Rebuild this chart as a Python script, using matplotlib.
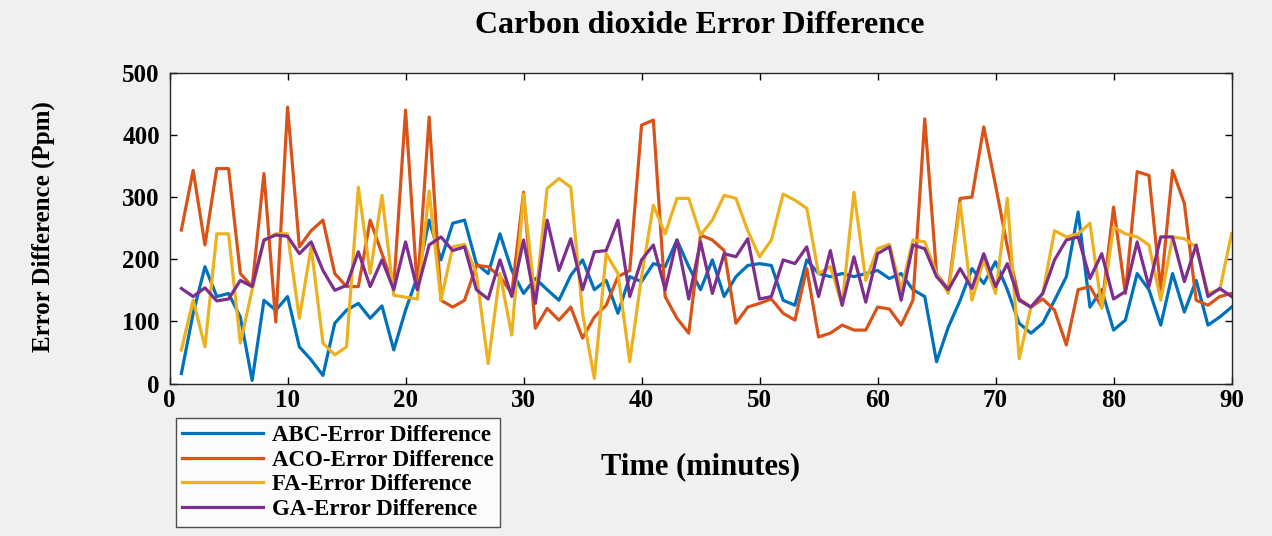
import matplotlib
matplotlib.use("Agg")
import matplotlib.pyplot as plt
import numpy as np

time_min = list(range(1, 91))

abc_err = [16, 113, 188, 140, 145, 107, 5, 134, 118, 140, 59, 38, 13, 97, 118, 129, 105, 125, 54, 118,
           172, 263, 199, 258, 263, 193, 177, 241, 182, 145, 169, 151, 134, 174, 199, 151, 166, 113, 172, 164,
           193, 188, 231, 188, 151, 199, 140, 172, 190, 193, 190, 134, 126, 199, 177, 172, 177, 172, 177, 182,
           169, 177, 151, 140, 35, 91, 134, 185, 161, 196, 151, 97, 81, 97, 134, 172, 276, 123, 151, 86,
           102, 177, 151, 94, 177, 115, 166, 94, 107, 123]

aco_err = [247, 343, 223, 346, 346, 177, 156, 338, 99, 445, 220, 246, 263, 177, 156, 156, 263, 209, 156, 440,
           151, 429, 134, 123, 134, 190, 188, 172, 145, 308, 89, 121, 102, 123, 73, 107, 126, 172, 182, 416,
           424, 140, 105, 81, 239, 231, 214, 97, 123, 129, 136, 113, 102, 185, 75, 81, 94, 86, 86, 123,
           120, 94, 134, 426, 177, 151, 298, 300, 413, 319, 220, 136, 123, 136, 118, 62, 151, 156, 123, 284,
           145, 341, 335, 151, 343, 290, 134, 126, 140, 145]

fa_err = [54, 134, 59, 241, 241, 65, 151, 230, 241, 241, 105, 220, 65, 46, 59, 316, 177, 303, 142, 139,
          136, 310, 134, 220, 224, 177, 32, 177, 78, 305, 134, 314, 330, 316, 113, 8, 209, 177, 35, 172,
          287, 241, 298, 298, 239, 263, 303, 298, 246, 204, 231, 305, 295, 282, 177, 188, 126, 308, 166, 217,
          224, 151, 231, 228, 177, 145, 290, 134, 199, 145, 298, 40, 123, 145, 246, 236, 241, 258, 121, 252,
          241, 236, 223, 134, 236, 233, 220, 145, 151, 241]

ga_err = [153, 140, 154, 133, 136, 166, 156, 231, 239, 237, 209, 228, 182, 150, 158, 212, 156, 199, 151, 228,
          151, 223, 236, 214, 220, 151, 136, 199, 140, 231, 129, 263, 182, 233, 151, 212, 214, 263, 140, 199,
          223, 151, 231, 136, 228, 145, 209, 204, 233, 136, 140, 199, 193, 220, 140, 214, 126, 204, 131, 209,
          220, 134, 223, 217, 172, 151, 185, 153, 209, 156, 193, 134, 123, 145, 199, 231, 236, 169, 209, 136,
          148, 228, 156, 236, 236, 164, 223, 140, 153, 140]

series_labels = ["ABC-Error Difference", "ACO-Error Difference", "FA-Error Difference", "GA-Error Difference"]
series_colors = ["#0072BD", "#D95319", "#EDB120", "#7E2F8E"]
x_ticks = [0, 10, 20, 30, 40, 50, 60, 70, 80, 90]
y_ticks = [0, 100, 200, 300, 400, 500]

serif = ["Liberation Serif", "DejaVu Serif"]

fig = plt.figure(figsize=(12.72, 5.36), dpi=100, facecolor="#f0f0f0")
ax = fig.add_axes([0.1333, 0.2845, 0.8349, 0.5795])
ax.set_facecolor("white")

for vals, lab, col in zip([abc_err, aco_err, fa_err, ga_err], series_labels, series_colors):
    ax.plot(time_min, vals, color=col, lw=2.3, label=lab)

ax.set_xlim(0, 90)
ax.set_ylim(0, 500)
ax.set_xticks(x_ticks)
ax.set_yticks(y_ticks)
ax.tick_params(direction="in", length=5, width=1, top=True, right=True)
ax.tick_params(axis="x", pad=4)
ax.tick_params(axis="y", pad=7)
for t in ax.get_xticklabels() + ax.get_yticklabels():
    t.set_family(serif)
    t.set_fontweight("bold")
    t.set_fontsize(18)
for s in ax.spines.values():
    s.set_linewidth(1.0)
    s.set_color("#262626")

fig.text(0.5504, 0.953, "Carbon dioxide Error Difference", ha="center", va="center",
         family=serif, fontweight="bold", fontsize=23)
fig.text(0.5504, 0.13, "Time (minutes)", ha="center", va="center",
         family=serif, fontweight="bold", fontsize=22)
fig.text(0.034, 0.578, "Error Difference (Ppm)", ha="center", va="center", rotation=90,
         family=serif, fontweight="bold", fontsize=18)

leg = fig.legend(loc="lower left", bbox_to_anchor=(0.138, 0.017), frameon=True, fancybox=False,
                 prop={"family": serif, "weight": "bold", "size": 16.5}, handlelength=3.5,
                 borderpad=0.3, labelspacing=0.16, handletextpad=0.4, borderaxespad=0)
leg.get_frame().set_edgecolor("#262626")
leg.get_frame().set_linewidth(1.0)

fig.savefig("out.png", dpi=100, facecolor=fig.get_facecolor())
